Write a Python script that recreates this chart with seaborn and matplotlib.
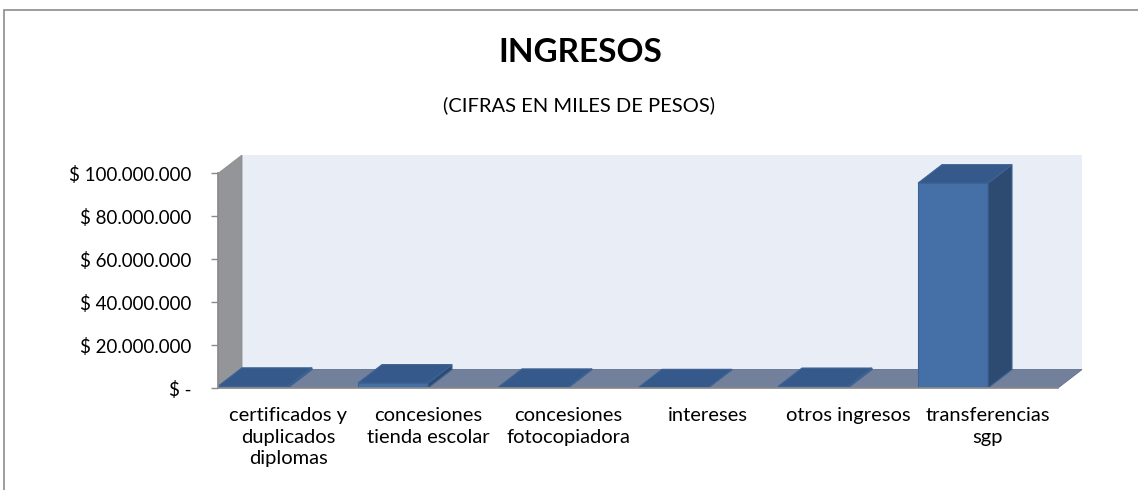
import numpy as np
import pandas as pd
import seaborn as sns
import matplotlib.pyplot as plt
from matplotlib.patches import Polygon, Rectangle
from matplotlib.ticker import FuncFormatter

# data
categorias = [
    "certificados y\nduplicados\ndiplomas",
    "concesiones\ntienda escolar",
    "concesiones\nfotocopiadora",
    "intereses",
    "otros ingresos",
    "transferencias\nsgp",
]
ingresos = [800000, 2300000, 300000, 100000, 700000, 95500000]
y_ticks = [0, 20000000, 40000000, 60000000, 80000000, 100000000]

titulo = "INGRESOS"
subtitulo = "(CIFRAS EN MILES DE PESOS)"

df = pd.DataFrame({"categoria": categorias, "valor": ingresos})

sns.set_theme(style="white")
plt.rcParams["font.family"] = ["Lato", "DejaVu Sans"]

W, H = 1138, 490
fig = plt.figure(figsize=(W / 100, H / 100), dpi=100)
fig.patch.set_facecolor("white")

# axes cover the front floor edge up to the top of the back wall
ax = fig.add_axes([218 / W, 1 - 388 / H, (1084 - 218) / W, (388 - 155) / H])
ax.set_facecolor("none")

y_max = y_ticks[-1]
n = len(categorias)
x_lo, x_hi = -0.25, n - 0.25

sns.barplot(data=df, x="categoria", y="valor", color="#4470a7", width=0.5,
            edgecolor="#3d6494", linewidth=0.8, saturation=1, ax=ax, zorder=3)

# 3D depth offset, given in pixels
DX_PX, DY_PX = 24, 18.5
px_per_x = 140.0
px_per_y = 215.0 / y_max
dx = DX_PX / px_per_x
dy = DY_PX / px_per_y

ax.set_xlim(x_lo, x_lo + (1084 - 218) / px_per_x)
ax.set_ylim(0, y_max + dy)

# back wall
ax.add_patch(Rectangle((x_lo + dx, dy), x_hi - x_lo, y_max, facecolor="#e9edf6",
                       edgecolor="none", zorder=0))
# side wall
ax.add_patch(Polygon([(x_lo, 0), (x_lo, y_max), (x_lo + dx, y_max + dy), (x_lo + dx, dy)],
                     closed=True, facecolor="#939598", edgecolor="#8a8c90", lw=0.6, zorder=1))
# floor
ax.add_patch(Polygon([(x_lo, 0), (x_hi, 0), (x_hi + dx, dy), (x_lo + dx, dy)],
                     closed=True, facecolor="#72809c", edgecolor="#5f6f8c", lw=0.6, zorder=1))

# top and side faces of each bar
for p in ax.patches[:n]:
    x, w, h = p.get_x(), p.get_width(), p.get_height()
    top = [(x, h), (x + w, h), (x + w + dx, h + dy), (x + dx, h + dy)]
    side = [(x + w, 0), (x + w, h), (x + w + dx, h + dy), (x + w + dx, dy)]
    ax.add_patch(Polygon(side, closed=True, facecolor="#2d4a70", edgecolor="#3d6494",
                         lw=0.8, zorder=4))
    ax.add_patch(Polygon(top, closed=True, facecolor="#34598a", edgecolor="#3d6494",
                         lw=0.8, zorder=5))

for s in ["top", "right"]:
    ax.spines[s].set_visible(False)
ax.spines["left"].set_color("#8a8a8a")
ax.spines["left"].set_bounds(0, y_max)
ax.spines["bottom"].set_color("#8a8a8a")
ax.spines["bottom"].set_bounds(x_lo, x_hi)
ax.spines["left"].set_zorder(6)
ax.spines["bottom"].set_zorder(6)

ax.set_yticks(y_ticks)
ax.yaxis.set_major_formatter(FuncFormatter(
    lambda v, _: "$ -" if v == 0 else "$ " + f"{v:,.0f}".replace(",", ".")))
ax.tick_params(axis="y", left=True, length=5, width=1, color="#8a8a8a",
               labelsize=13.5, labelcolor="black", pad=14)

ax.set_xticks(np.arange(n) + 0.25, categorias)
ax.tick_params(axis="x", bottom=False, labelsize=14.5, labelcolor="black", pad=8)
for lbl in ax.get_xticklabels():
    lbl.set_linespacing(1.3)
ax.set_xlabel("")
ax.set_ylabel("")

fig.text(580 / W, 1 - 53 / H, titulo, ha="center", va="center",
         fontsize=24, fontweight="bold", color="black")
fig.text(579 / W, 1 - 105 / H, subtitulo, ha="center", va="center",
         fontsize=14.5, color="black")

# chart frame (left and top edges visible)
fig.patches.append(Rectangle((4 / W, -0.1), 1.2, 1 - 10 / H + 0.1,
                             transform=fig.transFigure, fill=False,
                             edgecolor="#8c8c8c", lw=1.2))

fig.savefig("out.png", dpi=100)
